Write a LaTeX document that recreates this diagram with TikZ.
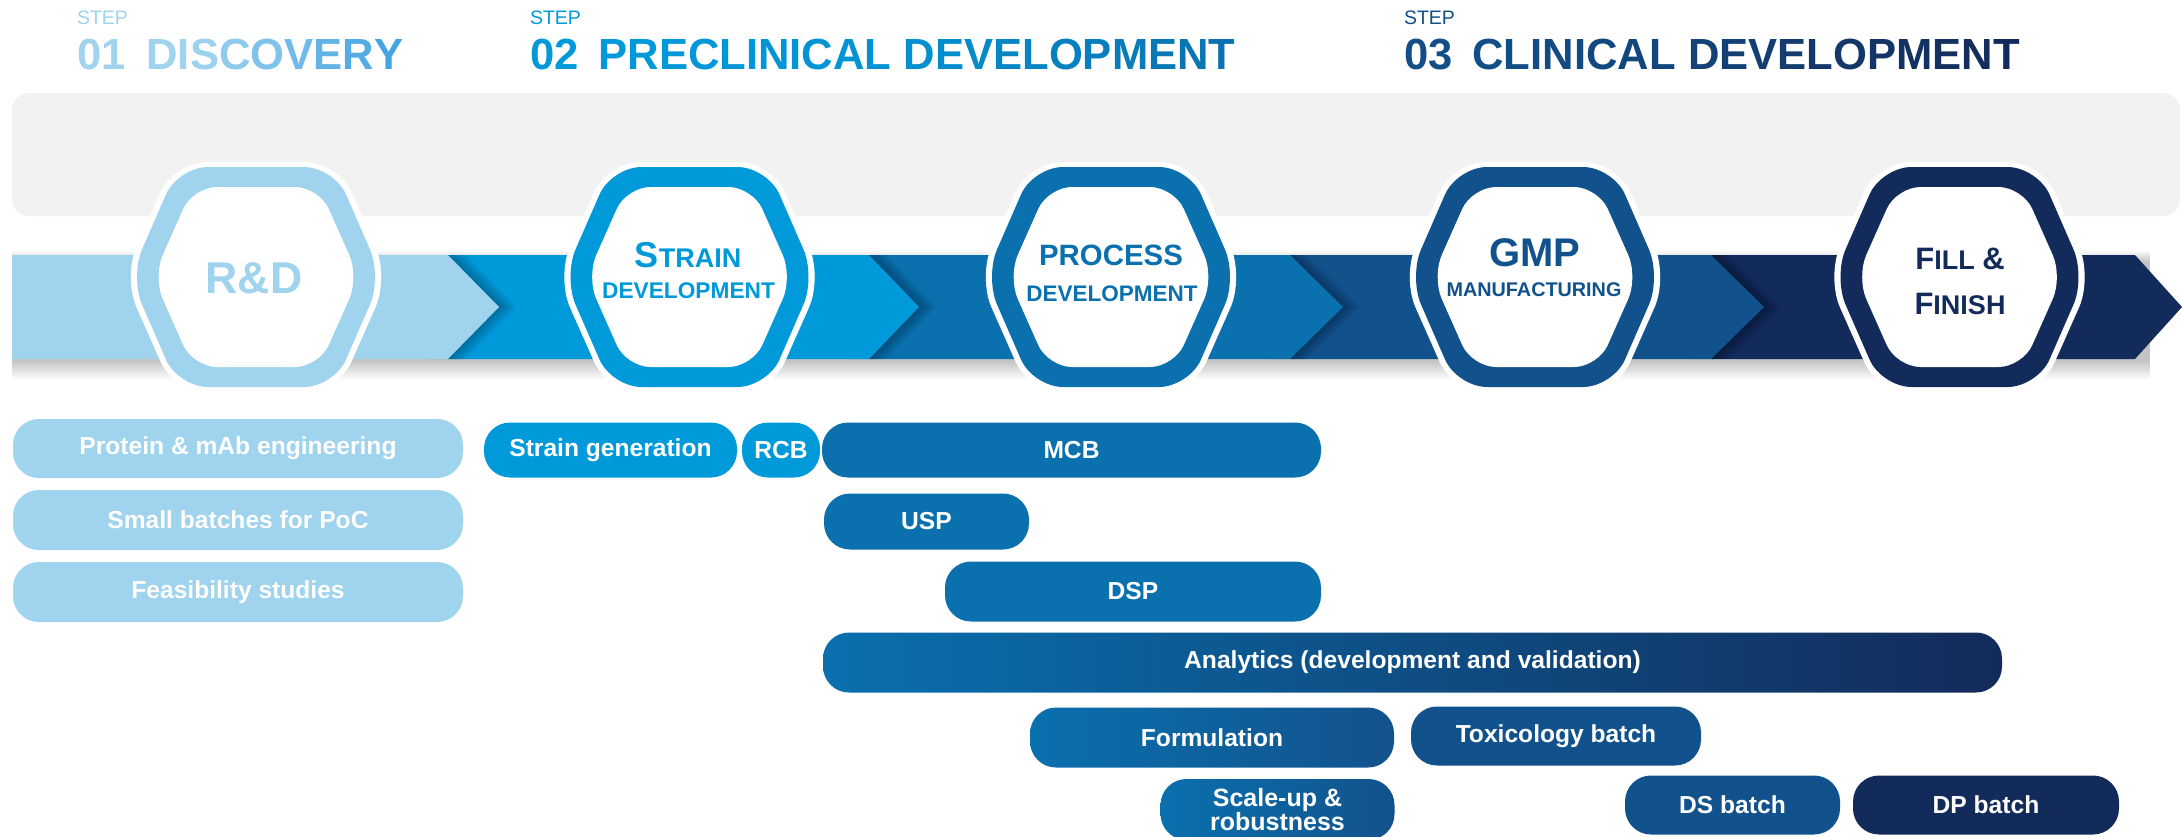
\documentclass[tikz,border=0pt]{standalone}
\usepackage{fontspec}
\setmainfont{Liberation Sans}
\definecolor{c1}{HTML}{9FD3EE}
\definecolor{c2}{HTML}{0099DA}
\definecolor{c3}{HTML}{0A70AE}
\definecolor{c4}{HTML}{12528C}
\definecolor{c5}{HTML}{132B5A}
\definecolor{dc}{HTML}{45A4E2}
\definecolor{e2}{HTML}{0A72B0}
\definecolor{d3}{HTML}{124F88}
\definecolor{bgbox}{HTML}{F2F2F2}
\newcommand\setfs[1]{\fontsize{#1}{#1}\selectfont}
\ExplSyntaxOn
\int_new:N \l_gw_n_int
\int_new:N \l_gw_i_int
\tl_new:N \l_gw_pct_tl
\NewDocumentCommand \gradword { m m m m m }
 {
  \int_set:Nn \l_gw_n_int { \tl_count:n {#5} }
  \int_zero:N \l_gw_i_int
  \tl_map_inline:nn {#5}
   {
    \tl_set:Nx \l_gw_pct_tl
      { \fp_eval:n { round( max(0, min(100, #3 + (#4 - #3) * \l_gw_i_int / max(1, \l_gw_n_int - 1) )), 0) } }
    \textcolor{#2!\l_gw_pct_tl!#1}{##1}
    \int_incr:N \l_gw_i_int
   }
 }
\ExplSyntaxOff
% hexagon: #1 fill, #2 cx, #3 top half-width, #4 mid half-width, #5 half-height, #6 radius
\newcommand\hexa[6]{%
  \fill[#1, rounded corners=#6pt] (#2,{277-#5}) -- ({#2+#3},{277-#5}) -- ({#2+#4},277)
    -- ({#2+#3},{277+#5}) -- ({#2-#3},{277+#5}) -- ({#2-#4},277) -- ({#2-#3},{277-#5}) -- cycle;}
\newcommand\hexfull[2]{%
  \hexa{white}{#1}{82}{133}{115}{33}%
  \hexa{#2}{#1}{78}{126}{110}{30}%
  \hexa{white}{#1}{63}{103}{90}{24}}
% chevron shadow at boundary x=#1, tip=#2
\newcommand\chevshadow[2]{%
  \foreach \i in {2,4,...,18}{
    \fill[black, opacity=0.03] ({#1-20},255) -- ({#1+\i},255) -- ({#2+\i},307) -- ({#1+\i},359) -- ({#1-20},359) -- cycle;}}
\begin{document}
\begin{tikzpicture}[x=1pt,y=-1pt,
  txt/.style={inner sep=0pt, outer sep=0pt},
  hextext/.style={txt, anchor=base, font=\bfseries},
  pill/.style={rectangle, rounded corners=26pt, inner sep=0pt, text=white,
     font=\bfseries\setfs{24.6}, align=center}]
\useasboundingbox (0,0) rectangle (2182,836);
\clip (0,0) rectangle (2182,836);
\fill[white] (0,0) rectangle (2182,836);

% titles
\node[txt, anchor=base west, font=\setfs{19.5}, text=c1] (s1) at (77,24) {STEP};
\node[txt, anchor=base west, font=\setfs{19.5}, text=c2] (s2) at (530,24) {STEP};
\node[txt, anchor=base west, font=\setfs{19.5}, text=d3] (s3) at (1404,24) {STEP};
\node[txt, anchor=base west, font=\bfseries\setfs{43.6}] (t1) at (77,69)
  {\textcolor{c1}{01}\hspace{21pt}\gradword{c1}{dc}{-30}{100}{DISCOVERY}};
\node[txt, anchor=base west, font=\bfseries\setfs{43.6}] (t2) at (530,69)
  {\textcolor{c2}{02}\hspace{20pt}\gradword{c2}{e2}{0}{15}{PRECLINICAL} \gradword{c2}{e2}{25}{100}{DEVELOPMENT}};
\node[txt, anchor=base west, font=\bfseries\setfs{43.6}] (t3) at (1404,69)
  {\textcolor{d3}{03}\hspace{20pt}\gradword{d3}{c5}{0}{25}{CLINICAL} \gradword{d3}{c5}{35}{100}{DEVELOPMENT}};

% grey band
\fill[bgbox, rounded corners=17pt] (12,93) rectangle (2180,216);

% band shadow
\foreach \i in {1,...,12}{
  \fill[black, opacity=0.018] (12,{263-\i}) rectangle (2150,{360+1.6*\i});}

% chevron segments, right to left
\fill[c5] (1711,255) -- (2135,255) -- (2182,307) -- (2135,359) -- (1711,359) -- cycle;
\chevshadow{1711}{1764}
\fill[c4] (1290,255) -- (1711,255) -- (1764,307) -- (1711,359) -- (1290,359) -- cycle;
\chevshadow{1290}{1343}
\fill[c3] (869,255) -- (1290,255) -- (1343,307) -- (1290,359) -- (869,359) -- cycle;
\chevshadow{869}{919}
\fill[c2] (448,255) -- (869,255) -- (919,307) -- (869,359) -- (448,359) -- cycle;
\chevshadow{448}{499}
\fill[c1] (12,255) -- (448,255) -- (499,307) -- (448,359) -- (12,359) -- cycle;

% hexagons
\hexfull{256}{c1}
\hexfull{689.5}{c2}
\hexfull{1111}{c3}
\hexfull{1535}{c4}
\hexfull{1959.5}{c5}

% hexagon labels
\node[hextext, text=c1, font=\bfseries\setfs{44.6}] (rd) at (254,293) {R\&D};
\node[hextext, text=c2] (st1) at (688,267) {\setfs{36}S\setfs{27}TRAIN};
\node[hextext, text=c2] (st2) at (688.5,298) {\setfs{22.7}DEVELOPMENT};
\node[hextext, text=c3] (pr1) at (1111,265) {\setfs{29.4}PROCESS};
\node[hextext, text=c3] (pr2) at (1112,301) {\setfs{22.5}DEVELOPMENT};
\node[hextext, text=c4] (gm1) at (1535,266) {\setfs{40}GMP};
\node[hextext, text=c4] (gm2) at (1534,296) {\setfs{19.8}MANUFACTURING};
\node[hextext, text=c5] (ff1) at (1960,269) {\setfs{31}F\setfs{27}ILL \setfs{31}\&};
\node[hextext, text=c5] (ff2) at (1960,314) {\setfs{31}F\setfs{27}INISH};

% pills
\node[pill, fill=c1, minimum width=450pt, minimum height=59pt] (p1) at (238,448.5) {Protein \& mAb engineering};
\node[pill, fill=c1, minimum width=450pt, minimum height=60pt] (p2) at (238,520) {Small batches for PoC};
\node[pill, fill=c1, minimum width=450pt, minimum height=60pt] (p3) at (238,592) {Feasibility studies};
\node[pill, fill=c2, minimum width=253pt, minimum height=55pt] (sg) at (610.5,450) {Strain generation};
\node[pill, fill=c2, minimum width=78pt, minimum height=55pt] (rcb) at (781,450) {RCB};
\node[pill, fill=c3, minimum width=499pt, minimum height=55pt] (mcb) at (1071.5,450) {MCB};
\node[pill, fill=c3, minimum width=205pt, minimum height=56pt] (usp) at (926.5,521.5) {USP};
\node[pill, fill=c3, minimum width=376pt, minimum height=60pt] (dsp) at (1133,591.5) {DSP};
\node[pill, left color=c3, middle color=c3!75!c5, right color=c5, minimum width=1179pt, minimum height=60pt] (ana) at (1412.5,662.5) {Analytics (development and validation)};
\node[pill, left color=c3, middle color=c3!65!c4, right color=c4, minimum width=364pt, minimum height=60pt] (form) at (1212,737.5) {Formulation};
\node[pill, fill=c4, minimum width=290pt, minimum height=59pt] (tox) at (1556,736) {Toxicology batch};
\node[pill, left color=c3, middle color=c3!60!c4, right color=c4, minimum width=234pt, minimum height=61pt, font=\bfseries\fontsize{25}{24}\selectfont] (scale) at (1277.5,809.5) {Scale-up \&\\robustness};
\node[pill, fill=c4, minimum width=215pt, minimum height=59pt] (ds) at (1732.5,805) {DS batch};
\node[pill, fill=c5, minimum width=266pt, minimum height=59pt] (dp) at (1986,805) {DP batch};
\end{tikzpicture}
\end{document}
